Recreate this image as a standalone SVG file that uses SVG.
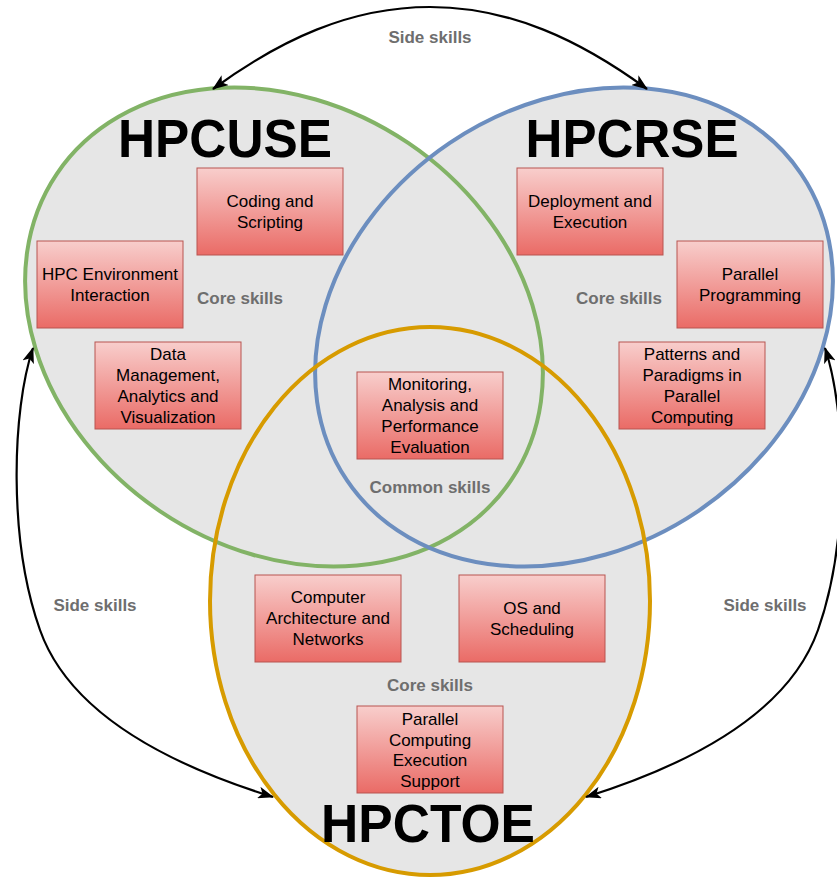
<svg xmlns="http://www.w3.org/2000/svg" width="837" height="879" viewBox="0 0 837 879">
<defs>
  <linearGradient id="boxGrad" x1="0" y1="0" x2="0" y2="1">
    <stop offset="0" stop-color="#f8cecc"/>
    <stop offset="1" stop-color="#ea6b66"/>
  </linearGradient>
  <marker id="arrow" viewBox="0 0 16 12" refX="15" refY="6" markerWidth="16" markerHeight="12" markerUnits="userSpaceOnUse" orient="auto-start-reverse">
    <path d="M0,0 L16,6 L0,12 L4,6 Z" fill="#000"/>
  </marker>
  <ellipse id="eGreen" cx="0" cy="0" rx="274" ry="222"/>
  <ellipse id="eOrange" cx="430" cy="601" rx="220" ry="274"/>
</defs>
<style>
  .fill { fill: #e6e6e6; stroke: none; }
  .ring { fill: none; stroke-width: 4; }
  .box rect { fill: url(#boxGrad); stroke: #b85450; stroke-width: 1; }
  .box text { font-family: "Liberation Sans", Arial, sans-serif; font-size: 17px; fill: #000; text-anchor: middle; }
  .lbl { font-family: "Liberation Sans", Arial, sans-serif; font-size: 17px; font-weight: bold; fill: #6e6e6e; text-anchor: middle; }
  .title { font-family: "Liberation Sans", Arial, sans-serif; font-size: 53px; font-weight: bold; fill: #000; text-anchor: middle; }
  .conn path { fill: none; stroke: #000; stroke-width: 2.2; marker-start: url(#arrow); marker-end: url(#arrow); }
</style>

<rect x="0" y="0" width="837" height="879" fill="#ffffff"/>

<g id="set-fills">
  <use href="#eGreen" class="fill" transform="translate(284,327) rotate(34)"/>
  <use href="#eGreen" class="fill" transform="translate(574,327) rotate(-34)"/>
  <use href="#eOrange" class="fill"/>
</g>

<g id="HPCUSE">
  <use href="#eGreen" class="ring" stroke="#82b366" transform="translate(284,327) rotate(34)"/>
  <text class="title" x="225" y="157" textLength="214" lengthAdjust="spacingAndGlyphs">HPCUSE</text>
  <text class="lbl" x="240" y="304">Core skills</text>
</g>
<g id="HPCRSE">
  <use href="#eGreen" class="ring" stroke="#6c8ebf" transform="translate(574,327) rotate(-34)"/>
  <text class="title" x="632" y="157" textLength="213" lengthAdjust="spacingAndGlyphs">HPCRSE</text>
  <text class="lbl" x="619" y="304">Core skills</text>
</g>
<g id="HPCTOE">
  <use href="#eOrange" class="ring" stroke="#d79b00"/>
  <text class="title" x="428" y="842" textLength="214" lengthAdjust="spacingAndGlyphs">HPCTOE</text>
  <text class="lbl" x="430" y="691">Core skills</text>
</g>
<g id="common">
  <text class="lbl" x="430" y="493">Common skills</text>
</g>

<g id="connectors" class="conn">
  <path d="M213,89 C280,40 350,7 430,7 C510,7 580,40 647,89"/>
  <path d="M33,348 C12,410 8,540 40,630 C70,715 170,765 273,797"/>
  <path d="M825,348 C846,410 850,540 818,630 C788,715 688,765 586,797"/>
  <text class="lbl" x="430" y="43">Side skills</text>
  <text class="lbl" x="95" y="611">Side skills</text>
  <text class="lbl" x="765" y="611">Side skills</text>
</g>

<g id="coding" class="box">
  <rect x="197" y="168" width="146" height="87"/>
  <text x="270" y="207">Coding and</text>
  <text x="270" y="228">Scripting</text>
</g>
<g id="hpcenv" class="box">
  <rect x="37" y="241" width="146" height="87"/>
  <text x="110" y="280">HPC Environment</text>
  <text x="110" y="301">Interaction</text>
</g>
<g id="datamgmt" class="box">
  <rect x="95" y="342" width="146" height="87"/>
  <text x="168" y="360">Data</text>
  <text x="168" y="381">Management,</text>
  <text x="168" y="402">Analytics and</text>
  <text x="168" y="423">Visualization</text>
</g>
<g id="deploy" class="box">
  <rect x="517" y="168" width="146" height="87"/>
  <text x="590" y="207">Deployment and</text>
  <text x="590" y="228">Execution</text>
</g>
<g id="parprog" class="box">
  <rect x="677" y="241" width="146" height="87"/>
  <text x="750" y="280">Parallel</text>
  <text x="750" y="301">Programming</text>
</g>
<g id="patterns" class="box">
  <rect x="619" y="342" width="146" height="87"/>
  <text x="692" y="360">Patterns and</text>
  <text x="692" y="381">Paradigms in</text>
  <text x="692" y="402">Parallel</text>
  <text x="692" y="423">Computing</text>
</g>
<g id="monitoring" class="box">
  <rect x="357" y="372" width="146" height="87"/>
  <text x="430" y="390">Monitoring,</text>
  <text x="430" y="411">Analysis and</text>
  <text x="430" y="432">Performance</text>
  <text x="430" y="453">Evaluation</text>
</g>
<g id="comparch" class="box">
  <rect x="255" y="575" width="146" height="87"/>
  <text x="328" y="603">Computer</text>
  <text x="328" y="624">Architecture and</text>
  <text x="328" y="645">Networks</text>
</g>
<g id="os" class="box">
  <rect x="459" y="575" width="146" height="87"/>
  <text x="532" y="614">OS and</text>
  <text x="532" y="635">Scheduling</text>
</g>
<g id="parexec" class="box">
  <rect x="357" y="706" width="146" height="87"/>
  <text x="430" y="725">Parallel</text>
  <text x="430" y="746">Computing</text>
  <text x="430" y="766">Execution</text>
  <text x="430" y="787">Support</text>
</g>
</svg>
